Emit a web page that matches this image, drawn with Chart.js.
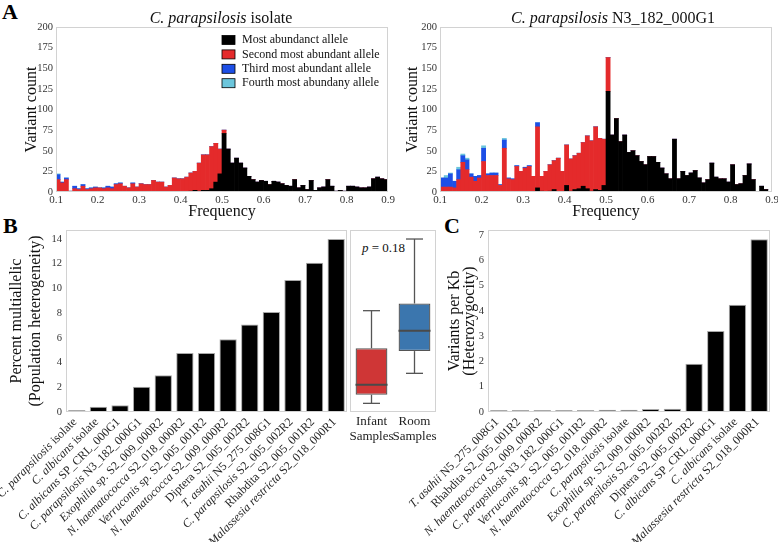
<!DOCTYPE html>
<html>
<head>
<meta charset="utf-8">
<script src="https://cdn.jsdelivr.net/npm/chart.js@4.4.1/dist/chart.umd.min.js"></script>
<style>
  body { margin: 0; background: #fff; width: 778px; height: 542px; position: relative; overflow: hidden; font-family: 'Liberation Serif', serif; }
  canvas { position: absolute; }
  .letter { position: absolute; font-weight: bold; font-size: 22px; line-height: 1; color: #000; }
  .pval { position: absolute; font-size: 13px; line-height: 16px; color: #111; }
</style>
</head>
<body>
<div class="letter" style="left:2px;top:1px">A</div>
<div class="letter" style="left:3px;top:215px">B</div>
<div class="letter" style="left:444px;top:215px">C</div>
<div class="pval" style="left:362px;top:240px"><i>p</i> = 0.18</div>

<canvas id="histIso" width="400" height="222" style="left:0;top:0"></canvas>
<canvas id="histN3" width="388" height="222" style="left:390px;top:0"></canvas>
<canvas id="multi" width="350" height="342" style="left:0;top:200px"></canvas>
<canvas id="boxes" width="92" height="342" style="left:348px;top:200px"></canvas>
<canvas id="hetero" width="378" height="342" style="left:400px;top:200px"></canvas>

<script>
const SERIF = "'Liberation Serif', 'Times New Roman', serif";

// ---- Panel A: allele frequency histograms (bins of 0.01 from 0.1 to 0.9) ----
const binCenters = [];
for (let i = 0; i < 80; i++) binCenters.push(Math.round(1050 + i * 100) / 10000);

const alleleNames = ['Most abundanct allele', 'Second most abundant allele', 'Third most abundant allele', 'Fourth most abundany allele'];
const alleleColors = ['#000000', '#e42a2b', '#1d4fe6', '#6cc6dc'];

const isoFirst = [0,0,0,0,0,0,0,0,0,0, 0,0,0,0,0,0,0,0,0,0, 0,0,0,0,0,0,0,0,0,0, 0,0,1,2,1,2,2,4,12,22,
  71,52,35,41,35,29,19,15,12,14, 13,9,13,12,10,8,7,15,5,8, 3,14,2,5,6,15,7,1,2,1, 7,7,6,5,5,6,16,18,16,15];
const isoSecond = [15,11,15,1,4,3,7,3,4,5, 5,4,5,4,9,10,7,5,10,6, 10,9,9,14,12,12,6,8,17,16, 16,18,22,23,34,43,43,51,47,30,
  4,0,0,0,0,0,0,0,0,0, 0,0,0,0,0,0,0,0,0,0, 0,0,0,0,0,0,0,0,0,0, 0,0,0,0,0,0,0,0,0,0];
const isoThird = [6,1,2,0,3,1,2,1,1,1, 0,1,2,2,1,1,0,0,1,0, 0,0,0,0,0,0,0,0,0,0, 0,0,0,0,0,0,0,0,0,0,
  0,0,0,0,0,0,0,0,0,0, 0,0,0,0,0,0,0,0,0,0, 0,0,0,0,0,0,0,0,0,0, 0,0,0,0,0,0,0,0,0,0];
const isoFourth = [1,0,0,0,0,0,0,0,0,0, 0,0,0,0,0,0,0,0,0,0, 0,0,0,0,0,0,0,0,0,0, 0,0,0,0,0,0,0,0,0,0,
  0,0,0,0,0,0,0,0,0,0, 0,0,0,0,0,0,0,0,0,0, 0,0,0,0,0,0,0,0,0,0, 0,0,0,0,0,0,0,0,0,0];

const n3First = [0,0,0,0,0,0,0,0,0,0, 0,0,0,0,0,0,0,0,0,0, 0,0,0,5,1,0,1,3,0,0, 8,1,3,4,7,4,1,3,2,8,
  122,69,89,61,69,48,50,44,37,33, 43,43,36,29,22,16,64,16,25,20, 23,26,17,11,15,35,18,16,16,12, 33,9,10,20,34,15,0,7,3,0];
const n3Second = [6,6,6,5,15,36,27,18,13,17, 37,20,20,20,8,53,16,15,31,25, 29,31,19,74,18,25,32,35,41,25, 49,39,41,43,53,64,61,76,63,56,
  41,0,0,0,0,0,0,0,0,0, 0,0,0,0,0,0,0,0,0,0, 0,0,0,0,0,0,0,0,0,0, 0,0,0,0,0,0,0,0,0,0];
const n3Third = [11,11,16,8,12,8,12,4,6,3, 16,2,3,3,1,10,1,1,1,0, 1,1,0,5,0,0,0,0,0,0, 0,0,0,0,0,0,0,0,0,0,
  0,0,0,0,0,0,0,0,0,0, 0,0,0,0,0,0,0,0,0,0, 0,0,0,0,0,0,0,0,0,0, 0,0,0,0,0,0,0,0,0,0];
const n3Fourth = [0,3,1,0,3,2,2,0,0,0, 3,0,0,0,0,2,0,0,0,0, 0,0,0,0,0,0,0,0,0,0, 0,0,0,0,0,0,0,0,0,0,
  0,0,0,0,0,0,0,0,0,0, 0,0,0,0,0,0,0,0,0,0, 0,0,0,0,0,0,0,0,0,0, 0,0,0,0,0,0,0,0,0,0];

const countTicks = [0, 25, 50, 75, 100, 125, 150, 175, 200];

// ---- Panel B: percent multiallelic ----
const multiLabels = ['C. parapsilosis isolate', 'C. albicans isolate', 'C. albicans SP_CRL_000G1', 'C. parapsilosis N3_182_000G1',
  'Exophilia sp. S2_009_000R2', 'N. haematococca S2_018_000R2', 'Verruconis sp. S2_005_001R2', 'N. haematococca S2_009_000R2',
  'Diptera S2_005_002R2', 'T. asahii N5_275_008G1', 'C. parapsilosis S2_005_002R2', 'Rhabdita S2_005_001R2', 'Malassesia restricta S2_018_000R1'];
const multiValues = [0.14, 0.43, 0.54, 2.05, 2.97, 4.78, 4.78, 5.89, 7.08, 8.1, 10.68, 12.08, 14.0];

// box plot: infant vs room samples
const boxLabels = [['Infant', 'Samples'], ['Room', 'Samples']];
const boxColors = ['#cf3636', '#3b76ae'];
const whiskerLow = [0.7, 3.13];
const quartile1 = [1.4, 4.93];
const medians = [2.2, 6.58];
const quartile3 = [5.16, 8.78];
const whiskerHigh = [8.2, 14.0];

// ---- Panel C: variants per Kb ----
const hetLabels = ['T. asahii N5_275_008G1', 'Rhabdita S2_005_001R2', 'N. haematococca S2_009_000R2', 'C. parapsilosis N3_182_000G1',
  'Verruconis sp. S2_005_001R2', 'N. haematococca S2_018_000R2', 'C. parapsilosis isolate', 'Exophilia sp. S2_009_000R2',
  'C. parapsilosis S2_005_002R2', 'Diptera S2_005_002R2', 'C. albicans SP_CRL_000G1', 'C. albicans isolate', 'Malassesia restricta S2_018_000R1'];
const hetValues = [0.01, 0.04, 0.04, 0.04, 0.04, 0.09, 0.09, 0.12, 0.13, 1.91, 3.2, 4.24, 6.83];

// split a species label into italic name + roman rest
function pieces(s) {
  const m = s.match(/^([A-Z]\. [a-z]+|Exophilia sp\.|Verruconis sp\.|Malassesia restricta)(.*)$/);
  return m ? [[m[1], true], [m[2], false]] : [[s, false]];
}
function richText(ctx, s, x, y, size, align) {
  const parts = pieces(s);
  const fonts = parts.map(p => (p[1] ? 'italic ' : '') + size + 'px ' + SERIF);
  let total = 0;
  const widths = parts.map((p, i) => { ctx.font = fonts[i]; const w = ctx.measureText(p[0]).width; total += w; return w; });
  let cx = align === 'right' ? x - total : align === 'center' ? x - total / 2 : x;
  ctx.textAlign = 'left';
  parts.forEach((p, i) => { ctx.font = fonts[i]; ctx.fillText(p[0], cx, y); cx += widths[i]; });
}

// frame, mixed-style titles, rotated labels and inner legend
const decor = {
  id: 'decor',
  afterDraw(chart, args, o) {
    const { ctx, chartArea: a } = chart;
    ctx.save();
    if (o.frame) {
      ctx.strokeStyle = '#d2d2d2';
      ctx.lineWidth = 1;
      ctx.strokeRect(a.left + 0.5, a.top + 0.5, a.right - a.left - 1, a.bottom - a.top - 1);
    }
    if (o.title) {
      ctx.fillStyle = '#111';
      ctx.textBaseline = 'middle';
      richText(ctx, o.title, (a.left + a.right) / 2 + (o.titleDx || 0), o.titleY, 16, 'center');
    }
    if (o.rotated) {
      const xs = chart.scales.x;
      ctx.fillStyle = '#262626';
      ctx.textBaseline = 'top';
      chart.data.labels.forEach((lab, i) => {
        ctx.save();
        ctx.translate(xs.getPixelForValue(i) - 6, a.bottom + 4);
        ctx.rotate(-Math.PI / 4);
        richText(ctx, lab, 0, 0, 12, 'right');
        ctx.restore();
      });
    }
    if (o.legend) {
      ctx.textBaseline = 'middle';
      ctx.font = '12px ' + SERIF;
      chart.data.datasets.forEach((ds, i) => {
        const y = o.legend.y + i * 14.4;
        ctx.fillStyle = ds.backgroundColor;
        ctx.fillRect(o.legend.x, y - 4.5, 13, 9);
        ctx.strokeStyle = '#000';
        ctx.lineWidth = 0.8;
        ctx.strokeRect(o.legend.x, y - 4.5, 13, 9);
        ctx.fillStyle = '#111';
        ctx.textAlign = 'left';
        ctx.fillText(ds.label, o.legend.x + 20, y);
      });
    }
    ctx.restore();
  }
};
Chart.register(decor);
Chart.defaults.font.family = SERIF;
Chart.defaults.color = '#333';
Chart.defaults.animation = false;
Chart.defaults.responsive = false;
Chart.defaults.plugins.legend.display = false;
Chart.defaults.plugins.tooltip.enabled = false;

const noGrid = { display: false, drawTicks: false };
// fix the height of a bottom axis and drop the extra room Chart.js keeps for edge labels
const fixHeight = h => s => { s.height = h; s.paddingLeft = 0; s.paddingRight = 0; };

function histogram(id, series, title, opts) {
  new Chart(document.getElementById(id), {
    type: 'bar',
    data: {
      datasets: series.map((vals, i) => ({
        label: alleleNames[i],
        data: vals.map((v, j) => ({ x: binCenters[j], y: v })),
        backgroundColor: alleleColors[i],
        borderWidth: 0,
        barPercentage: 1,
        categoryPercentage: 1,
      })),
    },
    options: {
      layout: { autoPadding: false, padding: { top: 27, right: opts.right, left: 0, bottom: 0 } },
      scales: {
        x: {
          type: 'linear', stacked: true, offset: false, min: 0.1, max: 0.9,
          grid: noGrid, border: { display: false },
          ticks: { stepSize: 0.1, padding: 2, font: { size: 11 }, callback: v => v.toFixed(1) },
          title: { display: true, text: 'Frequency', font: { size: 16 }, color: '#111', padding: { bottom: 1, top: 0 } },
          afterFit: fixHeight(30),
        },
        y: {
          stacked: true, min: 0, max: 200,
          grid: noGrid, border: { display: false },
          afterBuildTicks: s => { s.ticks = countTicks.map(v => ({ value: v })); },
          ticks: { padding: 3, font: { size: 10.5 } },
          title: { display: true, text: 'Variant count', font: { size: 16 }, color: '#111', padding: { top: opts.ytitle, bottom: 0 } },
          afterFit: s => { s.width = opts.yw; },
        },
      },
      plugins: { decor: { frame: true, title: title, titleY: 19, titleDx: opts.titleDx, legend: opts.legend } },
    },
  });
}

histogram('histIso', [isoFirst, isoSecond, isoThird, isoFourth], 'C. parapsilosis isolate',
  { right: 12, yw: 56, ytitle: 22, titleDx: -1, legend: { x: 222, y: 40 } });
histogram('histN3', [n3First, n3Second, n3Third, n3Fourth], 'C. parapsilosis N3_182_000G1',
  { right: 6, yw: 50, ytitle: 13, titleDx: 7, legend: null });

function speciesBars(id, labels, values, opts) {
  new Chart(document.getElementById(id), {
    type: 'bar',
    data: {
      labels: labels,
      datasets: [{
        data: values,
        backgroundColor: '#000',
        borderColor: '#a8a8a8',
        borderWidth: 1,
        borderSkipped: false,
        minBarLength: 2,
        barPercentage: 0.8,
        categoryPercentage: 1,
      }],
    },
    options: {
      layout: { autoPadding: false, padding: { top: 30, right: opts.right, left: 0, bottom: 0 } },
      scales: {
        x: {
          grid: noGrid, border: { display: false },
          ticks: { display: false },
          afterFit: fixHeight(130),
        },
        y: {
          min: 0, max: opts.max,
          grid: noGrid, border: { display: false },
          ticks: { stepSize: opts.step, includeBounds: false, padding: 4, font: { size: 10.5 } },
          title: { display: true, text: opts.title, font: { size: 16, lineHeight: opts.lh }, color: '#111', padding: { top: opts.ytitle, bottom: 0 } },
          afterFit: s => { s.width = opts.yw; },
        },
      },
      plugins: { decor: { frame: true, rotated: true } },
    },
  });
}

speciesBars('multi', multiLabels, multiValues,
  { right: 3, yw: 66, max: 14.73, step: 2, title: ['Percent multiallelic', '(Population heterogeneity)'], lh: 1.2, ytitle: 7 });
speciesBars('hetero', hetLabels, hetValues,
  { right: 8, yw: 88, max: 7.2, step: 1, title: ['Variants per Kb', '(Heterozygocity)'], lh: 0.95, ytitle: 47 });

// box plot on a linear x axis: group 0 = infant, group 1 = room
const whisker = (i, end, edge) => ({
  type: 'line',
  data: [{ x: i, y: end }, { x: i, y: edge }],
  borderColor: '#555',
  borderWidth: 1.3,
  pointStyle: 'line',
  pointRadius: [8.5, 0],
  pointBorderColor: '#555',
  pointBorderWidth: 1.3,
  order: 1,
});
new Chart(document.getElementById('boxes'), {
  type: 'bar',
  data: {
    datasets: [
      {
        type: 'line',
        data: medians.map((m, i) => ({ x: i, y: m })),
        showLine: false,
        pointStyle: 'line',
        pointRadius: 16,
        pointBorderColor: '#4a4a4a',
        pointBorderWidth: 2,
        order: 0,
      },
      {
        data: quartile1.map((q, i) => ({ x: i, y: [q, quartile3[i]] })),
        backgroundColor: boxColors,
        borderColor: '#555',
        borderWidth: 1.3,
        borderSkipped: false,
        barPercentage: 0.74,
        categoryPercentage: 1,
        order: 2,
      },
      whisker(0, whiskerLow[0], quartile1[0]),
      whisker(0, whiskerHigh[0], quartile3[0]),
      whisker(1, whiskerLow[1], quartile1[1]),
      whisker(1, whiskerHigh[1], quartile3[1]),
    ],
  },
  options: {
    layout: { autoPadding: false, padding: { top: 30, right: 4, left: 2, bottom: 0 } },
    scales: {
      x: {
        type: 'linear', offset: false, min: -0.5, max: 1.5,
        grid: noGrid, border: { display: false },
        afterBuildTicks: s => { s.ticks = boxLabels.map((l, i) => ({ value: i })); },
        ticks: { padding: 2, maxRotation: 0, autoSkip: false, color: '#222', font: { size: 13, lineHeight: 1.15 }, callback: v => boxLabels[v] },
        afterFit: fixHeight(130),
      },
      y: { display: false, min: 0, max: 14.73 },
    },
    plugins: { decor: { frame: true } },
  },
});
</script>
</body>
</html>
